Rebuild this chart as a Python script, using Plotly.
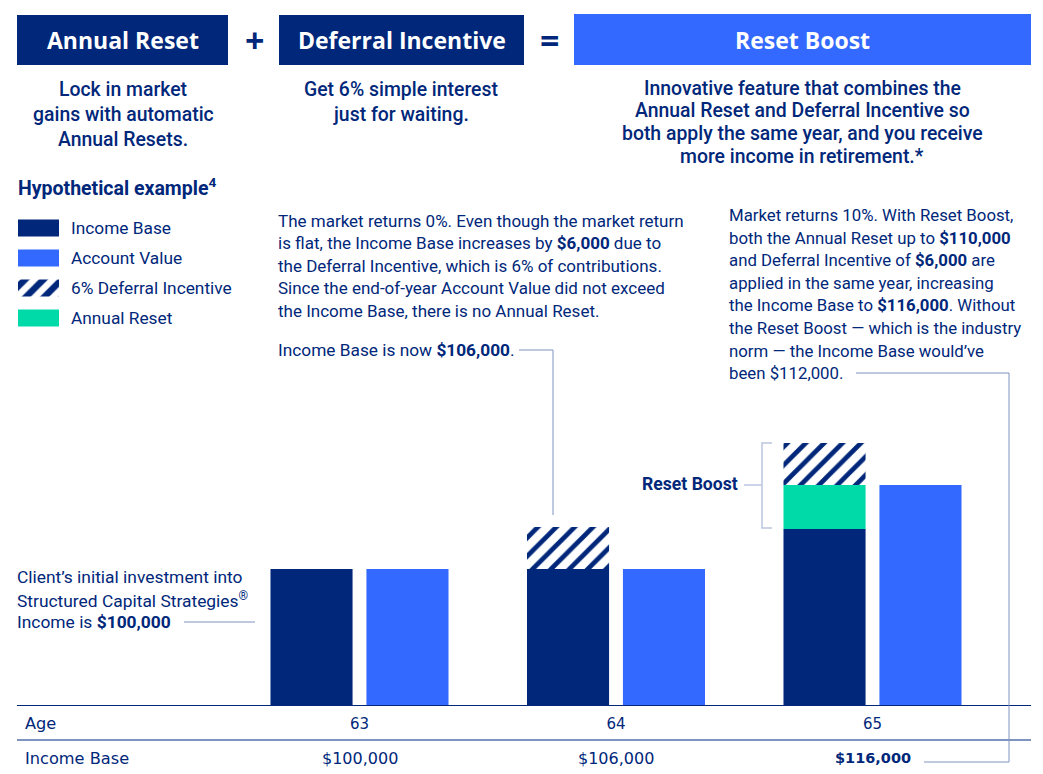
import plotly.graph_objects as go

W, H = 1043, 774
NAVY = "#00277A"
BLUE = "#3369FF"
GREEN = "#00D9A8"
LINE = "#7F93C0"
PALE = "#BAC6E0"
FONT = "Roboto"
HEAD = "Open Sans"
TABLE = "DejaVu Sans"

ages = [63, 64, 65]
income_base = [100, 100, 105.7]
annual_reset = [0, 0, 6.3]
deferral = [0, 6, 6]
account_value = [100, 100, 112]
income_row = ["$100,000", "$106,000", "$116,000"]
legend_items = ["Income Base", "Account Value", "6% Deferral Incentive", "Annual Reset"]

# scale: 7 px per $1k, baseline at y=705, x: 256.5 px per year of age
floor = 100 - 136 / 7
y_top = floor + 705 / 7
BASE_PX = 705
x_lo = 63 + (17 - 359.5) / 256.5
x_hi = 63 + (1031 - 359.5) / 256.5
bar_w = 0.32


def px(x):
    return x / W


def py(y):
    return 1 - y / H


fig = go.Figure()

# account value next to the income stack
fig.add_trace(go.Bar(x=ages, y=[v - floor for v in account_value], base=floor,
                     offset=0.027, width=bar_w, marker=dict(color=BLUE, line_width=0),
                     name="Account Value"))
fig.add_trace(go.Bar(x=ages, y=[v - floor for v in income_base], base=floor,
                     offset=-0.347, width=bar_w, marker=dict(color=NAVY, line_width=0),
                     name="Income Base"))
fig.add_trace(go.Bar(x=ages, y=annual_reset, base=income_base,
                     offset=-0.347, width=bar_w, marker=dict(color=GREEN, line_width=0),
                     name="Annual Reset"))
stack = [a + b for a, b in zip(income_base, annual_reset)]
fig.add_trace(go.Bar(x=ages, y=deferral, base=stack,
                     offset=-0.347, width=bar_w,
                     marker=dict(color="white", line_width=0,
                                 pattern=dict(shape="/", fgcolor=NAVY, bgcolor="white", fgopacity=1,
                                              size=13, solidity=0.36)),
                     name="6% Deferral Incentive"))

# legend swatches, one horizontal bar per row on their own small axes
swatches = [
    dict(color=NAVY),
    dict(color=BLUE),
    dict(color="white", pattern=dict(shape="/", fgcolor=NAVY, bgcolor="white", fgopacity=1,
                                     size=13, solidity=0.5)),
    dict(color=GREEN),
]
for item, m in zip(legend_items, swatches):
    fig.add_trace(go.Bar(x=[1], y=[item], orientation="h", marker=dict(line_width=0, **m),
                         width=0.57, xaxis="x2", yaxis="y2", showlegend=False))

fig.update_layout(
    width=W, height=H, margin=dict(l=0, r=0, t=0, b=0),
    paper_bgcolor="white", plot_bgcolor="white",
    barmode="overlay", showlegend=False,
    font=dict(family=FONT, color=NAVY),
    xaxis=dict(domain=[px(17), px(1031)], range=[x_lo, x_hi], tickvals=ages,
               ticktext=[str(a) for a in ages], showgrid=False, zeroline=False,
               showline=True, linecolor=NAVY, linewidth=1.2, ticks="outside",
               ticklen=5, tickcolor="rgba(0,0,0,0)",
               tickfont=dict(family=TABLE, size=15, color=NAVY)),
    yaxis=dict(domain=[py(BASE_PX), 1], range=[floor, y_top], visible=False),
    xaxis2=dict(domain=[px(18), px(59)], range=[0, 1], visible=False, anchor="y2"),
    yaxis2=dict(domain=[py(333), py(213)], categoryorder="array",
                categoryarray=legend_items[::-1], visible=False, anchor="x2"),
)

# header boxes
for x0, x1, y0, color in [(17, 228, 15, NAVY), (279, 524, 15, NAVY), (574, 1031, 14, BLUE)]:
    fig.add_shape(type="rect", xref="paper", yref="paper", x0=px(x0), x1=px(x1),
                  y0=py(y0), y1=py(65), fillcolor=color, line_width=0)

# leader lines and table rule
leaders = [
    ([17, 1031], [740, 740], LINE, 2),
    ([184, 255], [622, 622], LINE, 1),
    ([519, 553, 553], [350, 350, 515], LINE, 1),
    ([856, 1009, 1009, 924], [373, 373, 762, 762], LINE, 1),
    ([772, 762, 762, 772], [443, 443, 528, 528], PALE, 1.5),
    ([744, 762], [485, 485], PALE, 1.5),
]
for xs, ys, color, w in leaders:
    path = "M" + " L".join(f"{px(x)},{py(y)}" for x, y in zip(xs, ys))
    fig.add_shape(type="path", xref="paper", yref="paper", path=path,
                  line=dict(color=color, width=w))


def label(text, x, y, size=16.7, weight=400, color=NAVY, anchor="left", family=FONT):
    if anchor == "left":
        x -= 1
    fig.add_annotation(text=text, xref="paper", yref="paper", x=px(x), y=py(y),
                       xanchor=anchor, yanchor="middle", showarrow=False, borderpad=0,
                       font=dict(family=family, size=size, weight=weight, color=color))


# header text
label("Annual Reset", 123, 40, 23, 700, "white", "center", HEAD)
label("Deferral Incentive", 402, 40, 23, 700, "white", "center", HEAD)
label("Reset Boost", 802, 40, 23, 700, "white", "center", HEAD)
label("+", 254, 40, 34, 700, NAVY, "center", HEAD)
label("=", 549, 40, 34, 700, NAVY, "center", HEAD)

for text, y in [("Lock in market", 90), ("gains with automatic", 114.5), ("Annual Resets.", 139)]:
    label(text, 123, y, 19.4, 500, anchor="center")
for text, y in [("Get 6% simple interest", 90), ("just for waiting.", 114.5)]:
    label(text, 401, y, 19.4, 500, anchor="center")
for text, y in [("Innovative feature that combines the", 88),
                ("Annual Reset and Deferral Incentive so", 110.5),
                ("both apply the same year, and you receive", 133.5),
                ("more income in retirement.*", 156)]:
    label(text, 802, y, 19.4, 500, anchor="center")

label("<b>Hypothetical example<sup>4</sup></b>", 18, 187, 19.5)

for item, y in zip(legend_items, [228, 258, 288, 318]):
    label(item, 71, y, 17.3)

middle = ["The market returns 0%. Even though the market return",
          "is flat, the Income Base increases by <b>$6,000</b> due to",
          "the Deferral Incentive, which is 6% of contributions.",
          "Since the end-of-year Account Value did not exceed",
          "the Income Base, there is no Annual Reset."]
for i, text in enumerate(middle):
    label(text, 278, 220.5 + i * 22.6, 17)
label("Income Base is now <b>$106,000</b>.", 278, 350, 17.3)

right = ["Market returns 10%. With Reset Boost,",
         "both the Annual Reset up to <b>$110,000</b>",
         "and Deferral Incentive of <b>$6,000</b> are",
         "applied in the same year, increasing",
         "the Income Base to <b>$116,000</b>. Without",
         "the Reset Boost — which is the industry",
         "norm — the Income Base would’ve",
         "been $112,000."]
for i, text in enumerate(right):
    label(text, 729, 215 + i * 22.6, 16.8)

left = ["Client’s initial investment into",
        "Structured Capital Strategies<sup>®</sup>",
        "Income is <b>$100,000</b>"]
for i, text in enumerate(left):
    label(text, 17, 577 + i * 22.5, 17.4)

label("<b>Reset Boost</b>", 739, 484, 17.6, anchor="right")

# table rows under the axis
label("Age", 25, 723, 16.2, family=TABLE)
label("Income Base", 25, 758, 16.2, family=TABLE)
for age, text in zip(ages, income_row):
    fig.add_annotation(text=text, xref="x", yref="paper", x=age, y=py(758),
                       xanchor="center", yanchor="middle", showarrow=False,
                       font=dict(family=TABLE, size=14.5 if age == 65 else 16, color=NAVY,
                                 weight=700 if age == 65 else 400))

fig.write_html("out.html", post_script="document.body.style.margin='0';",
               config=dict(displayModeBar=False))
